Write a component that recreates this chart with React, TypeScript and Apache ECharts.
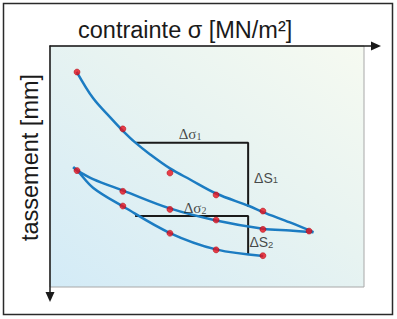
import React, { useEffect, useRef } from "react";
import * as echarts from "echarts";

const sigma = [0.86, 2.32, 3.82, 5.29, 6.78, 8.25];
const loading = [1.08, 3.44, 5.27, 6.18, 6.85, 7.68];
const unloading = [5.17, 6.03, 6.78, 7.22, 7.61, 7.68];
const reloading = [5.17, 6.64, 7.77, 8.46, 8.7];

// fitted curves as drawn in the picture
const loadingCurve = [
  [0.85, 1.07], [1.37, 2.16], [1.91, 2.95], [2.33, 3.53], [2.71, 4.0], [3.19, 4.5],
  [3.82, 5.08], [4.46, 5.54], [5.29, 6.12], [6.34, 6.64], [6.78, 6.89], [7.64, 7.32], [8.39, 7.72],
];
const unloadingCurve = [
  [8.39, 7.73], [7.64, 7.66], [6.78, 7.58], [5.29, 7.24], [3.82, 6.74], [2.33, 6.0],
  [1.37, 5.52], [0.87, 5.17], [0.74, 5.03],
];
const reloadingCurve = [
  [0.74, 5.03], [0.87, 5.17], [1.38, 5.89], [2.33, 6.66], [3.82, 7.76], [5.29, 8.44], [6.79, 8.71],
];

// bracket construction (Δσ / ΔS)
const bracketSigma = [2.71, 6.31];
const bracket1 = [4.01, 6.67];
const bracket2 = [7.05, 8.67];

const xTitle = "contrainte σ [MN/m²]";
const yTitle = "tassement [mm]";

const annotations = [
  { text: "{ms|Δσ}{ss|1}", at: [4.46, 3.63], pos: "inside" },
  { text: "{ma|ΔS}{sa|1}", at: [6.5, 5.41], pos: "right" },
  { text: "{ms|Δσ}{ss|2}", at: [4.62, 6.68], pos: "inside" },
  { text: "{ma|ΔS}{sa|2}", at: [6.35, 8.09], pos: "right" },
];

export default function App() {
  const ref = useRef<HTMLDivElement>(null);
  useEffect(() => {
    if (!ref.current) return;
    const chart = echarts.init(ref.current, undefined, { renderer: "svg" });

    const points: number[][] = [];
    sigma.forEach((x, i) => points.push([x, loading[i]]));
    sigma.forEach((x, i) => {
      if (i < sigma.length - 1) points.push([x, unloading[i]]);
    });
    reloading.forEach((y, i) => {
      if (i > 0) points.push([sigma[i], y]);
    });

    const bracketA = [
      [bracketSigma[0], bracket1[0]],
      [bracketSigma[1], bracket1[0]],
      [bracketSigma[1], bracket1[1]],
    ];
    const bracketB = [
      [bracketSigma[0], bracket2[0]],
      [bracketSigma[1], bracket2[0]],
      [bracketSigma[1], bracket2[1]],
    ];

    const curveStyle = { color: "#1c7cc2", width: 2.5 };
    const bracketStyle = { color: "#1a1a1a", width: 2 };
    const hiddenAxis = { show: false };

    const rich = {
      ms: {
        fontFamily: "Liberation Serif",
        fontSize: 15,
        lineHeight: 17,
        verticalAlign: "bottom",
        color: "#1a1a1a",
      },
      ss: {
        fontFamily: "Liberation Serif",
        fontSize: 10,
        lineHeight: 10,
        verticalAlign: "bottom",
        color: "#1a1a1a",
      },
      ma: {
        fontFamily: "Liberation Sans",
        fontSize: 14,
        lineHeight: 17,
        verticalAlign: "bottom",
        color: "#1a1a1a",
      },
      sa: {
        fontFamily: "Liberation Sans",
        fontSize: 9.5,
        lineHeight: 9.5,
        verticalAlign: "bottom",
        color: "#1a1a1a",
      },
    };

    const curveSeries = (data: number[][]) => ({
      type: "line",
      xAxisIndex: 0,
      yAxisIndex: 0,
      data,
      smooth: 0.35,
      showSymbol: false,
      lineStyle: curveStyle,
      silent: true,
    });

    const option: any = {
      animation: false,
      grid: [
        {
          left: 50,
          top: 46,
          width: 314,
          height: 241,
          show: true,
          backgroundColor: {
            type: "linear",
            x: 0,
            y: 1,
            x2: 1,
            y2: 0,
            colorStops: [
              { offset: 0, color: "#d3ebf7" },
              { offset: 0.55, color: "#e7f3f1" },
              { offset: 1, color: "#f6faf1" },
            ],
          },
          borderColor: "#a8a8a8",
          borderWidth: 1,
        },
        { left: 50, top: 46, width: 326, height: 251, show: false },
      ],
      xAxis: [
        { gridIndex: 0, type: "value", min: 0, max: 10, ...hiddenAxis },
        {
          gridIndex: 1,
          type: "value",
          min: 0,
          max: 10,
          position: "top",
          axisLine: {
            show: true,
            onZero: false,
            symbol: ["none", "triangle"],
            symbolSize: [9, 10],
            lineStyle: { color: "#1a1a1a", width: 1.5 },
          },
          axisTick: { show: false },
          axisLabel: { show: false },
          splitLine: { show: false },
        },
      ],
      yAxis: [
        { gridIndex: 0, type: "value", min: 0, max: 10, inverse: true, ...hiddenAxis },
        {
          gridIndex: 1,
          type: "value",
          min: 0,
          max: 10,
          position: "left",
          axisLine: {
            show: true,
            onZero: false,
            symbol: ["triangle", "none"],
            symbolSize: [9, 10],
            lineStyle: { color: "#1a1a1a", width: 1.5 },
          },
          axisTick: { show: false },
          axisLabel: { show: false },
          splitLine: { show: false },
        },
      ],
      series: [
        curveSeries(loadingCurve),
        curveSeries(unloadingCurve),
        curveSeries(reloadingCurve),
        {
          type: "line",
          xAxisIndex: 0,
          yAxisIndex: 0,
          data: bracketA,
          showSymbol: false,
          lineStyle: bracketStyle,
          silent: true,
          z: 1,
        },
        {
          type: "line",
          xAxisIndex: 0,
          yAxisIndex: 0,
          data: bracketB,
          showSymbol: false,
          lineStyle: bracketStyle,
          silent: true,
          z: 1,
        },
        {
          type: "scatter",
          xAxisIndex: 0,
          yAxisIndex: 0,
          data: points,
          symbolSize: 6,
          itemStyle: { color: "#e8101c", borderColor: "#a8000c", borderWidth: 0.6 },
          silent: true,
          z: 5,
        },
        {
          type: "scatter",
          xAxisIndex: 0,
          yAxisIndex: 0,
          symbolSize: 0,
          silent: true,
          z: 6,
          data: annotations.map((a) => ({
            value: a.at,
            label: {
              show: true,
              formatter: a.text,
              position: a.pos,
              distance: 0,
              rich,
            },
          })),
          label: { show: true, rich },
        },
      ],
      graphic: [
        {
          type: "rect",
          shape: { x: 3.5, y: 3.5, width: 389, height: 311 },
          style: { fill: "none", stroke: "#2a2a2a", lineWidth: 1.5 },
          silent: true,
        },
        {
          type: "text",
          x: 78,
          y: 30,
          style: {
            text: xTitle,
            font: '23.5px "Liberation Sans", Arial, sans-serif',
            fill: "#1a1a1a",
            textAlign: "left",
            textVerticalAlign: "middle",
            align: "left",
            verticalAlign: "middle",
          },
          silent: true,
        },
        {
          type: "text",
          x: 30,
          y: 157.5,
          rotation: Math.PI / 2,
          style: {
            text: yTitle,
            font: '23.5px "Liberation Sans", Arial, sans-serif',
            fill: "#1a1a1a",
            textAlign: "center",
            textVerticalAlign: "middle",
            align: "center",
            verticalAlign: "middle",
          },
          silent: true,
        },
      ],
    };

    chart.setOption(option);
    return () => chart.dispose();
  }, []);

  return (
    <div
      ref={ref}
      style={{ position: "fixed", left: 0, top: 0, width: 397, height: 319, background: "#ffffff" }}
    />
  );
}
